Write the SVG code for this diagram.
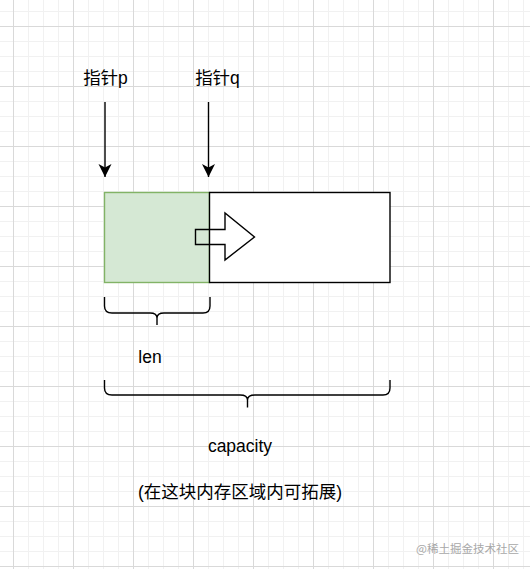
<svg xmlns="http://www.w3.org/2000/svg" width="530" height="569" viewBox="0 0 530 569">
  <style>
    .t { font-family: "Liberation Sans", Arial, "Noto Sans CJK SC", sans-serif; font-size: 17.5px; fill: #000; text-anchor: middle; }
    .ln { fill: none; stroke: #000; stroke-width: 1.4; }
    .wm { font-family: "Noto Sans CJK SC", sans-serif; font-size: 11.5px; fill: #a8a8a8; }
  </style>
  <defs>
    <pattern id="grid" x="13" y="26" width="60" height="60" patternUnits="userSpaceOnUse">
      <rect x="0" y="0" width="60" height="60" fill="#fff"/>
      <g fill="#f1f1f1">
        <rect x="15" y="0" width="1" height="60"/>
        <rect x="30" y="0" width="1" height="60"/>
        <rect x="45" y="0" width="1" height="60"/>
        <rect x="0" y="15" width="60" height="1"/>
        <rect x="0" y="30" width="60" height="1"/>
        <rect x="0" y="45" width="60" height="1"/>
      </g>
      <g fill="#d9d9d9">
        <rect x="0" y="0" width="1" height="60"/>
        <rect x="0" y="0" width="60" height="1"/>
      </g>
    </pattern>
    <marker id="arr" viewBox="0 0 14 14" refX="13" refY="7" markerWidth="14" markerHeight="14" markerUnits="userSpaceOnUse" orient="auto">
      <path d="M0,0.5 L13,7 L0,13.5 L3.5,7 Z" fill="#000"/>
    </marker>
  </defs>
  <rect width="530" height="569" fill="url(#grid)"/>

  <g id="label-p"><text class="t" x="105.5" y="84">指针p</text></g>
  <g id="label-q"><text class="t" x="217.5" y="84">指针q</text></g>

  <g id="len-block"><rect x="104.5" y="192.5" width="105" height="90" fill="#d5e8d4" stroke="#82b366" stroke-width="1.4"/></g>
  <g id="free-block"><rect x="209.5" y="192.5" width="180.5" height="90" fill="#fff" stroke="#000" stroke-width="1.4"/></g>
  <g id="grow-arrow"><polygon class="ln" points="195.5,229.5 225,229.5 225,213 254.5,237 225,260 225,244.5 195.5,244.5"/></g>

  <g id="connectors">
    <line class="ln" x1="105" y1="102" x2="105" y2="177" marker-end="url(#arr)"/>
    <line class="ln" x1="208.5" y1="102" x2="208.5" y2="177" marker-end="url(#arr)"/>
  </g>

  <g id="len-brace"><path class="ln" d="M104.5,297 L104.5,306 Q104.5,313 112,313 L150,313 Q157,313 157,318 L157,325 M157,318 Q157,313 164,313 L203,313 Q210,313 210,306 L210,297"/></g>
  <g id="len-label"><text class="t" x="150" y="362.5">len</text></g>

  <g id="capacity-brace"><path class="ln" d="M104.5,380 L104.5,388 Q104.5,395 112,395 L240,395 Q247.5,395 247.5,400 L247.5,407.5 M247.5,400 Q247.5,395 255,395 L383,395 Q390,395 390,388 L390,380"/></g>
  <g id="capacity-label"><text class="t" x="240" y="452">capacity</text></g>
  <g id="note-label"><text class="t" x="240" y="497.5">(在这块内存区域内可拓展)</text></g>

  <text class="wm" x="416" y="552.5">@稀土掘金技术社区</text>
</svg>
